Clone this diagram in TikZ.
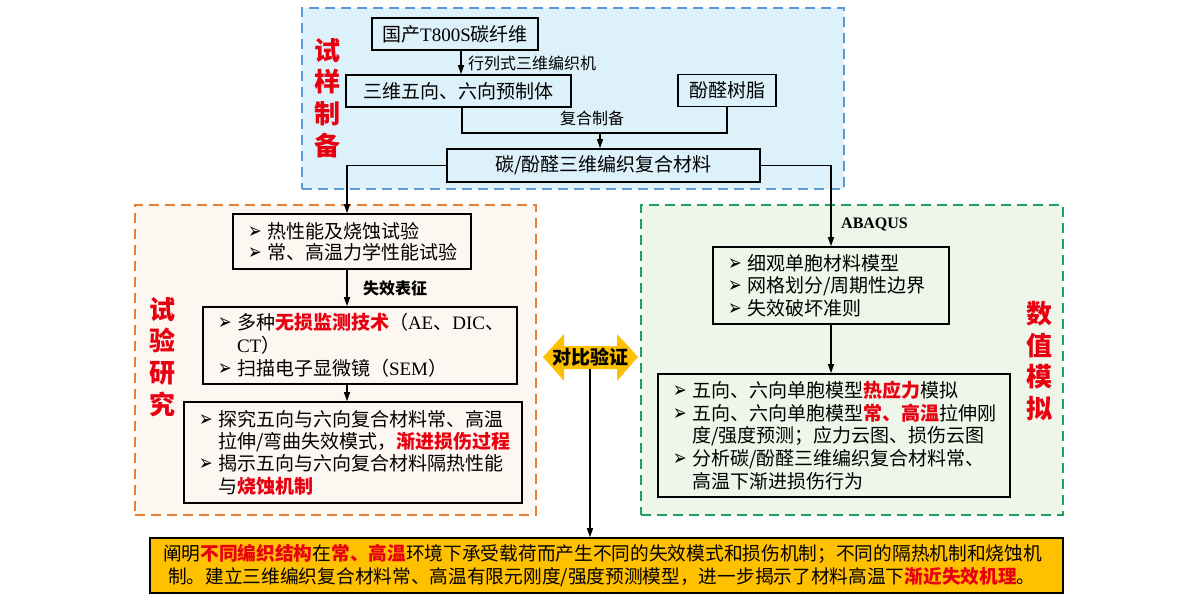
\documentclass[tikz,border=0pt]{standalone}
\usepackage{fontspec}
\setmainfont{Noto Sans CJK SC}
\newfontfamily\tnr{Liberation Serif}
\newfontfamily\dvs{DejaVu Sans}
\usetikzlibrary{arrows.meta}
\definecolor{bluefill}{RGB}{221,241,251}
\definecolor{blueline}{RGB}{91,155,213}
\definecolor{orfill}{RGB}{253,247,242}
\definecolor{orline}{RGB}{237,125,49}
\definecolor{grfill}{RGB}{238,246,233}
\definecolor{grline}{RGB}{30,160,100}
\definecolor{gold}{RGB}{255,192,0}
\definecolor{hlred}{RGB}{232,0,16}
\newcommand\fs[2]{\fontsize{#1pt}{#2pt}\selectfont}
\newcommand\hl[1]{{\bfseries\color{hlred}#1}}
\newcommand\bul{\makebox[20pt][l]{\hspace*{1pt}\scalebox{0.95}[1.3]{\dvs\fontsize{17pt}{17pt}\selectfont ➢}}}
\newcommand\ind{\hspace*{20pt}}
\begin{document}
\begin{tikzpicture}[x=1pt,y=-1pt,
  region/.style={dash pattern=on 10pt off 6pt, line width=2pt, inner sep=0pt},
  box/.style={draw=black, line width=1.6pt, inner sep=0pt, font={\fs{19}{22.5}}},
  listbox/.style={box, align=left, inner xsep=14pt, inner ysep=0pt},
  conn/.style={line width=1.1pt, draw=black},
  arr/.style={conn, -{Triangle[length=9pt,width=6pt]}},
  lbl/.style={inner sep=0pt, font={\fs{16}{16}}},
  vlabel/.style={align=center, text=hlred, font={\bfseries\fs{26}{31.7}}, inner sep=0pt},
]
\fill[white] (0,0) rectangle (1204,598);
\useasboundingbox (0,0) rectangle (1204,598);

% regions
\node[region, draw=blueline, fill=bluefill, minimum width=542pt, minimum height=181pt] (prep) at (573,98.5) {};
\node[region, draw=orline, fill=orfill, minimum width=401pt, minimum height=310pt] (expr) at (335.5,360) {};
\node[region, draw=grline, fill=grfill, minimum width=422pt, minimum height=310pt] (simu) at (852,360) {};

% vertical titles
\node[vlabel] (t1) at (327,98) {试\\样\\制\\备};
\node[vlabel] (t2) at (162,357) {试\\验\\研\\究};
\node[vlabel] (t3) at (1039,361) {数\\值\\模\\拟};

% top boxes
\node[box, minimum width=166pt, minimum height=32pt] (fiber) at (455,34) {国产{\tnr T800S}碳纤维};
\node[box, minimum width=225pt, minimum height=32pt] (preform) at (458.5,91) {三维五向、六向预制体};
\node[box, minimum width=98pt, minimum height=32pt] (resin) at (727,90.5) {酚醛树脂};
\node[box, minimum width=313pt, minimum height=33pt] (comp) at (603.5,165.5) {碳/酚醛三维编织复合材料};

% left column
\node[listbox, text width=210pt, minimum height=55pt, font={\fs{19}{21}}] (lb1) at (352,241.5)
  {\bul 热性能及烧蚀试验\\ \bul 常、高温力学性能试验};
\node[listbox, text width=286pt, minimum height=77pt, font={\fs{19}{23}}] (lb2) at (360,345.5)
  {\bul 多种\hl{无损监测技术}（{\tnr AE}、{\tnr DIC}、\\ \ind{\tnr CT}）\\ \bul 扫描电子显微镜（{\tnr SEM}）};
\node[listbox, text width=310pt, minimum height=101pt, font={\fs{19}{22.3}}] (lb3) at (353,452.5)
  {\bul 探究五向与六向复合材料常、高温\\ \ind 拉伸/弯曲失效模式，\hl{渐进损伤过程}\\ \bul 揭示五向与六向复合材料隔热性能\\ \ind 与\hl{烧蚀机制}};

% right column
\node[listbox, text width=208pt, minimum height=77pt, font={\fs{19}{22.5}}] (rb1) at (831,285.5)
  {\bul 细观单胞材料模型\\ \bul 网格划分/周期性边界\\ \bul 失效破坏准则};
\node[listbox, text width=324pt, minimum height=123pt, font={\fs{19}{22.75}}] (rb2) at (834,435.5)
  {\bul 五向、六向单胞模型\hl{热应力}模拟\\ \bul 五向、六向单胞模型\hl{常、高温}拉伸刚\\ \ind 度/强度预测；应力云图、损伤云图\\ \bul 分析碳/酚醛三维编织复合材料常、\\ \ind 高温下渐进损伤行为};

% bottom conclusion
\node[box, fill=gold, align=left, text width=887pt, inner xsep=13pt, minimum width=913pt, minimum height=55pt, font={\fs{18.7}{23}}] (bottom) at (606.5,565.5)
  {\makebox[882pt][s]{\XeTeXlinebreaklocale "zh"\XeTeXlinebreakskip=0pt plus 8pt 阐明\hl{不同编织结构}在\hl{常、高温}环境下承受载荷而产生不同的失效模式和损伤机制；不同的隔热机制和烧蚀机}\\ \hspace*{5pt}制。建立三维编织复合材料常、高温有限元刚度/强度预测模型，进一步揭示了材料高温下\hl{渐近失效机理}。};

% comparison double arrow
\fill[gold] (543,357) -- (564,334) -- (564,346) -- (617,346) -- (617,334) -- (638,357)
  -- (617,381) -- (617,369) -- (564,369) -- (564,381) -- cycle;
\node[inner sep=0pt, font={\bfseries\fs{19}{19}}] (cmp) at (590,357) {对比验证};
\coordinate (cmpbot) at (590,369);

% labels
\node[lbl, anchor=west] (l1) at (468,63) {行列式三维编织机};
\node[lbl] (l2) at (592,118) {复合制备};
\node[lbl, anchor=west, font={\bfseries\fs{16}{16}}] (l3) at (363,288) {失效表征};
\node[lbl, anchor=west, font={\tnr\bfseries\fs{16}{16}}] (l4) at (841,224) {ABAQUS};

% connectors
\coordinate (lx) at (347,0);
\coordinate (rx) at (831,0);
\coordinate (join) at (600,133);
\draw[arr] ([xshift=6pt]fiber.south) -- ([xshift=6pt]fiber.south |- preform.north);
\draw[conn] ([xshift=3.5pt]preform.south) |- (join) -| (resin.south);
\draw[arr] (join) -- (join |- comp.north);
\draw[arr] (comp.west) -| (lx |- lb1.north);
\draw[arr] (comp.east) -| (rb1.north);
\draw[arr] (lx |- lb1.south) -- (lx |- lb2.north);
\draw[arr] (lx |- lb2.south) -- (lx |- lb3.north);
\draw[arr] (rx |- rb1.south) -- (rx |- rb2.north);
\draw[arr] (cmpbot) -- (cmpbot |- bottom.north);
\end{tikzpicture}
\end{document}
